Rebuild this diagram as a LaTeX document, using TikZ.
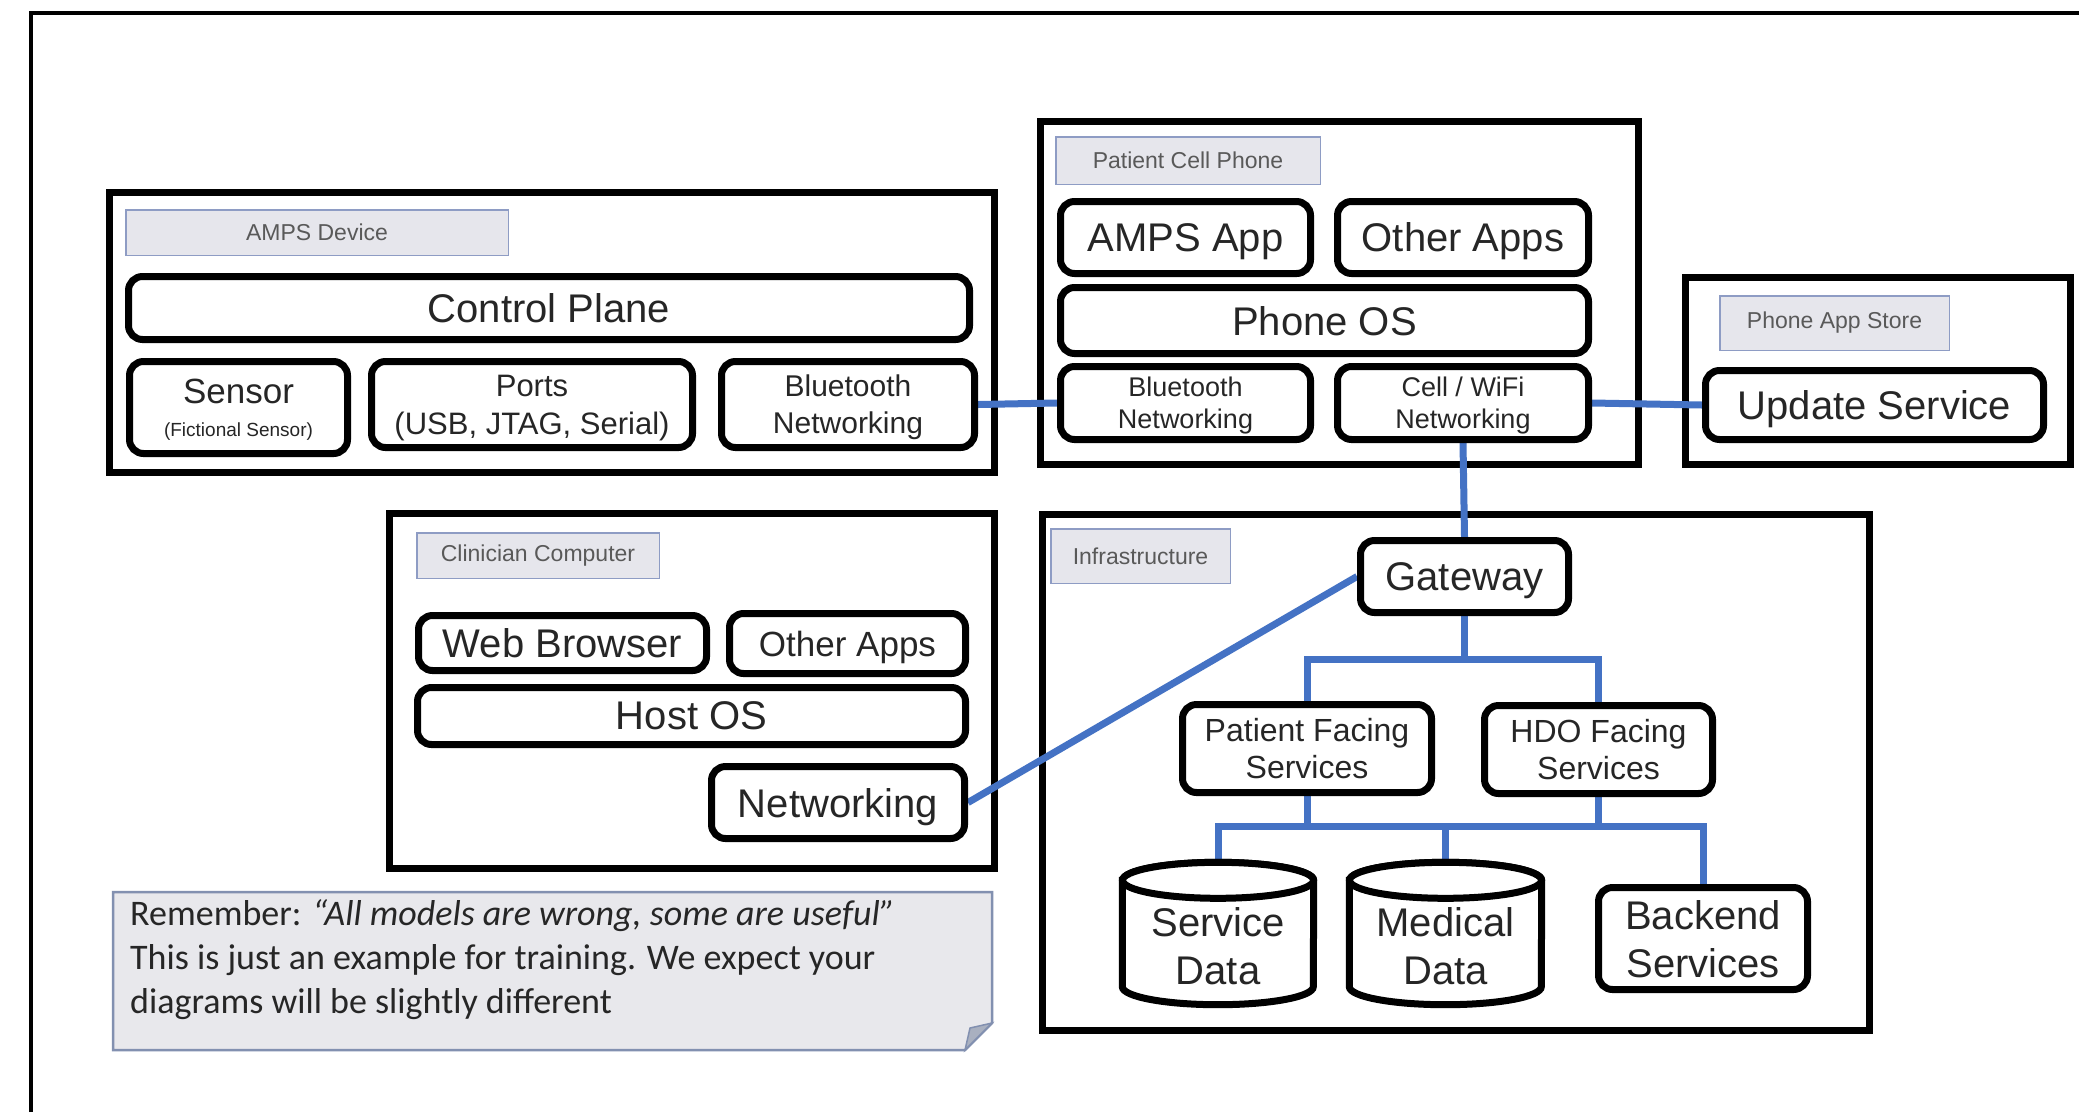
\documentclass[tikz,border=0pt]{standalone}
\usepackage{fontspec}
\setmainfont{Liberation Sans}
\newfontfamily\notefont{Carlito}
\usetikzlibrary{calc}
\definecolor{txt}{HTML}{262626}
\definecolor{tagfill}{HTML}{E6E6EC}
\definecolor{tagdraw}{HTML}{8E9CC4}
\definecolor{tagtxt}{HTML}{595959}
\definecolor{linkblue}{HTML}{4472C4}
\definecolor{notefill}{HTML}{E8E8EC}
\definecolor{notedraw}{HTML}{8290B0}
\definecolor{foldfill}{HTML}{A9B0C0}
\newcommand\fs[2]{\fontsize{#1pt}{#2pt}\selectfont}
\newcommand\bx[7]{\node[#1, minimum width={#5-#3-7}, minimum height={#6-#4-7}] (#2) at ({(#3+#5)/2},{(#4+#6)/2}) {#7};}
\newcommand\tg[7]{\node[#1, minimum width={#5-#3-1.5}, minimum height={#6-#4-1.5}] (#2) at ({(#3+#5)/2},{(#4+#6)/2}) {#7};}
\pgfdeclarelayer{bg}\pgfdeclarelayer{links}
\pgfsetlayers{bg,links,main}
\tikzset{
  container/.style={draw=black, line width=7pt, fill=white, inner sep=0pt},
  tag/.style={draw=tagdraw, line width=1.5pt, fill=tagfill, text=tagtxt, font=\fs{23}{27}, inner sep=0pt},
  comp/.style={draw=black, line width=7pt, rounded corners=14pt, fill=white, text=txt, inner sep=0pt, align=center, text depth=0pt},
  cylnode/.style={inner sep=0pt},
  cyl/.style={draw=black, line width=7pt, fill=white},
  cyltext/.style={text=txt, align=center, font=\fs{40}{48}, inner sep=0pt, text depth=0pt},
  link/.style={draw=linkblue, line width=7pt},
  frame/.style={draw=black, line width=3.5pt},
  note/.style={draw=notedraw, line width=2.5pt, fill=notefill, line join=miter},
  fold/.style={draw=notedraw, line width=1.5pt, fill=foldfill},
}
\begin{document}
\begin{tikzpicture}[x=1pt, y=-1pt]
\useasboundingbox (0,0) rectangle (2079,1112);

\begin{pgfonlayer}{bg}
\fill[white] (0,0) rectangle (2079,1112);
\draw[frame] (31,1112) -- (31,13) -- (2079,13);
\bx{container}{amps}{106}{189}{998}{476}{}
\bx{container}{phone}{1037}{118}{1642}{468}{}
\bx{container}{store}{1682}{274}{2074}{468}{}
\bx{container}{clin}{386}{510}{998}{872}{}
\bx{container}{infra}{1039}{511}{1873}{1034}{}
\end{pgfonlayer}

% tags
\tg{tag}{tamps}{125}{209}{509}{256}{AMPS Device}
\tg{tag}{tphone}{1055}{136}{1321}{185}{Patient Cell Phone}
\tg{tag}{tstore}{1719}{295}{1950}{351}{Phone App Store}
\tg{tag}{tclin}{416}{532}{660}{579}{Clinician Computer}
\tg{tag}{tinfra}{1050}{528}{1231}{584}{Infrastructure}

% AMPS device
\bx{comp, font=\fs{40}{46}}{cp}{125}{273}{973}{343}{Control Plane}
\bx{comp, font=\fs{35}{37}}{sens}{126}{358}{351}{457}{Sensor\\[-4pt]{\fs{19}{22}(Fictional Sensor)}}
\bx{comp, font=\fs{31}{38}}{ports}{368}{358}{696}{451}{Ports\\(USB, JTAG, Serial)}
\bx{comp, font=\fs{30}{37}}{btA}{718}{358}{978}{451}{Bluetooth\\Networking}

% phone
\bx{comp, font=\fs{40}{46}}{app}{1057}{198}{1314}{277}{AMPS App}
\bx{comp, font=\fs{40}{46}}{oapp}{1334}{198}{1592}{277}{Other Apps}
\bx{comp, font=\fs{40}{46}}{pos}{1057}{284}{1592}{357}{Phone OS}
\bx{comp, font=\fs{27}{32}}{btP}{1057}{363}{1314}{443}{Bluetooth\\Networking}
\bx{comp, font=\fs{27}{32}}{cw}{1334}{363}{1592}{443}{Cell / WiFi\\Networking}

% store
\bx{comp, font=\fs{40}{46}}{us}{1702}{367}{2047}{443}{Update Service}

% clinician
\bx{comp, font=\fs{40}{46}}{web}{415}{612}{710}{674}{Web Browser}
\bx{comp, font=\fs{35}{42}}{capp}{726}{610}{969}{677}{Other Apps}
\bx{comp, font=\fs{40}{46}}{hos}{414}{684}{969}{748}{Host OS}
\bx{comp, font=\fs{40}{46}}{net}{708}{763}{968}{842}{Networking}

% infrastructure
\bx{comp, font=\fs{40}{46}}{gw}{1357}{537}{1572}{616}{Gateway}
\bx{comp, font=\fs{32}{37}}{pf}{1179}{701}{1435}{796}{Patient Facing\\Services}
\bx{comp, font=\fs{32}{37}}{hdo}{1481}{702}{1716}{797}{HDO Facing\\Services}
\bx{comp, font=\fs{40}{48}}{be}{1595}{884}{1811}{993}{Backend\\Services}

\bx{cylnode}{sd}{1119}{859}{1317}{1008}{}
\bx{cylnode}{md}{1346}{859}{1545}{1008}{}
\draw[cyl] ($(sd.north west)+(0,18)$) -- ($(sd.south west)+(0,-18)$)
  arc[start angle=180, end angle=360, x radius=95.5pt, y radius=18pt]
  -- ($(sd.north east)+(0,18)$) arc[start angle=0, end angle=180, x radius=95.5pt, y radius=18pt] -- cycle;
\draw[cyl] ($(sd.north)+(0,18)$) ellipse[x radius=95.5pt, y radius=18pt];
\draw[cyl] ($(md.north west)+(0,18)$) -- ($(md.south west)+(0,-18)$)
  arc[start angle=180, end angle=360, x radius=96pt, y radius=18pt]
  -- ($(md.north east)+(0,18)$) arc[start angle=0, end angle=180, x radius=96pt, y radius=18pt] -- cycle;
\draw[cyl] ($(md.north)+(0,18)$) ellipse[x radius=96pt, y radius=18pt];
\node[cyltext] (sdt) at ($(sd.center)+(0,12)$) {Service\\Data};
\node[cyltext] (mdt) at ($(md.center)+(0,12)$) {Medical\\Data};

% note
\draw[note] (113,892) -- (992,892) -- (992,1023) -- (965,1050) -- (113,1050) -- cycle;
\draw[fold] (965,1050) -- (970,1028) -- (992,1023) -- cycle;
\node[anchor=north west, align=left, font=\notefont\fs{36}{44}, text=txt, inner sep=0pt] (notetxt) at (130,899)
  {Remember: \textit{“All models are wrong, some are useful”}\\This is just an example for training. We expect your\\diagrams will be slightly different};

% links
\coordinate (j1) at (1465,659);
\coordinate (j2) at (1445,826);
\begin{pgfonlayer}{links}
\draw[link] (btA.east) -- (btP.west);
\draw[link] (cw.east) -- (us.west);
\draw[link] (cw.south) -- (gw.north);
\draw[link] (gw.west) -- (net.east);
\draw[link] (gw.south) -- (gw.south |- j1);
\draw[link] (pf.north) |- (j1) -| (hdo.north);
\draw[link] (pf.south) -- (pf.south |- j2);
\draw[link] (hdo.south) -- (hdo.south |- j2);
\draw[link] (sd.north) |- (j2) -| (be.north);
\draw[link] (md.north) -- (md.north |- j2);
\end{pgfonlayer}
\end{tikzpicture}
\end{document}
